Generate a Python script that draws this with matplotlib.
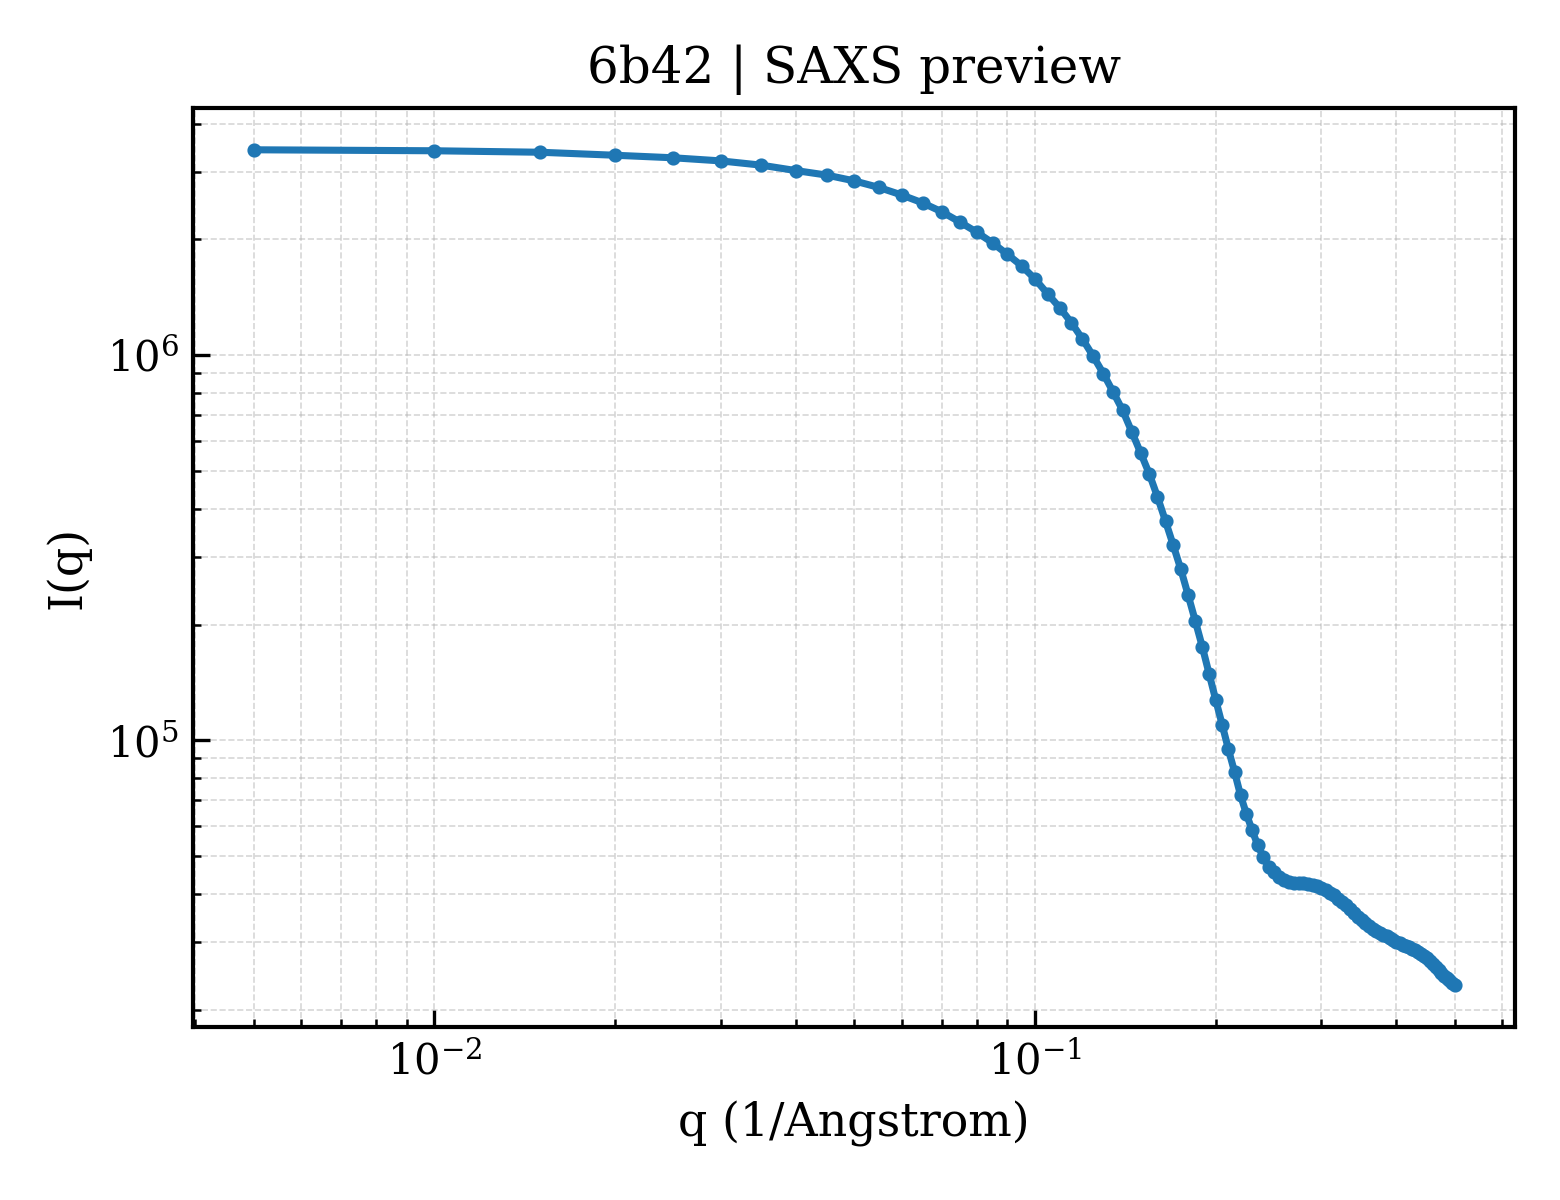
import matplotlib
matplotlib.use("Agg")
import matplotlib.pyplot as plt

# =========================
# Data (q in 1/Angstrom, I in counts)
# =========================
PDB_ID = "6b42"

Q_VALUES = [
    0.005, 0.010, 0.015, 0.020, 0.025, 0.030, 0.035, 0.040, 0.045, 0.050,
    0.055, 0.060, 0.065, 0.070, 0.075, 0.080, 0.085, 0.090, 0.095, 0.100,
    0.105, 0.110, 0.115, 0.120, 0.125, 0.130, 0.135, 0.140, 0.145, 0.150,
    0.155, 0.160, 0.165, 0.170, 0.175, 0.180, 0.185, 0.190, 0.195, 0.200,
    0.205, 0.210, 0.215, 0.220, 0.225, 0.230, 0.235, 0.240, 0.245, 0.250,
    0.255, 0.260, 0.265, 0.270, 0.275, 0.280, 0.285, 0.290, 0.295, 0.300,
    0.305, 0.310, 0.315, 0.320, 0.325, 0.330, 0.335, 0.340, 0.345, 0.350,
    0.355, 0.360, 0.365, 0.370, 0.375, 0.380, 0.385, 0.390, 0.395, 0.400,
    0.405, 0.410, 0.415, 0.420, 0.425, 0.430, 0.435, 0.440, 0.445, 0.450,
    0.455, 0.460, 0.465, 0.470, 0.475, 0.480, 0.485, 0.490, 0.495, 0.500,
]

INTENSITY = [
    3.42e6, 3.40e6, 3.37e6, 3.31e6, 3.26e6, 3.20e6, 3.12e6, 3.02e6, 2.94e6, 2.84e6,
    2.73e6, 2.61e6, 2.49e6, 2.36e6, 2.22e6, 2.09e6, 1.96e6, 1.83e6, 1.71e6, 1.58e6,
    1.445e6, 1.33e6, 1.216e6, 1.103e6, 9.96e5, 8.97e5, 8.03e5, 7.20e5, 6.33e5, 5.58e5,
    4.93e5, 4.29e5, 3.71e5, 3.21e5, 2.78e5, 2.38e5, 2.04e5, 1.75e5, 1.49e5, 1.275e5,
    1.099e5, 9.48e4, 8.28e4, 7.20e4, 6.44e4, 5.84e4, 5.34e4, 4.98e4, 4.69e4, 4.54e4,
    4.42e4, 4.33e4, 4.28e4, 4.26e4, 4.25e4, 4.25e4, 4.24e4, 4.22e4, 4.19e4, 4.14e4,
    4.08e4, 4.02e4, 3.96e4, 3.88e4, 3.80e4, 3.73e4, 3.64e4, 3.56e4, 3.48e4, 3.42e4,
    3.36e4, 3.30e4, 3.24e4, 3.20e4, 3.16e4, 3.13e4, 3.10e4, 3.06e4, 3.03e4, 3.00e4,
    2.97e4, 2.95e4, 2.92e4, 2.90e4, 2.875e4, 2.85e4, 2.82e4, 2.79e4, 2.755e4, 2.72e4,
    2.67e4, 2.625e4, 2.58e4, 2.53e4, 2.49e4, 2.45e4, 2.42e4, 2.38e4, 2.345e4, 2.31e4,
]

# =========================
# Style
# =========================
plt.rcParams["font.family"] = "serif"
plt.rcParams["font.serif"] = ["DejaVu Serif"]
plt.rcParams["mathtext.fontset"] = "dejavuserif"


def make_plot(output_file="out.png"):
    fig, ax = plt.subplots(figsize=(5.2, 4), dpi=300)

    ax.loglog(Q_VALUES, INTENSITY, "-o", color="#1f77b4", lw=1.7, ms=2.4)

    ax.set_title(f"{PDB_ID} | SAXS preview", fontsize=12)
    ax.set_xlabel("q (1/Angstrom)", fontsize=11)
    ax.set_ylabel("I(q)", fontsize=11)

    ax.grid(True, which="both", ls="--", lw=0.4, color="#b0b0b0", alpha=0.5)
    ax.tick_params(which="both", direction="in", labelsize=10)
    ax.tick_params(which="major", length=4, width=0.8)
    ax.tick_params(which="minor", length=2, width=0.6)
    for spine in ax.spines.values():
        spine.set_linewidth(1.0)

    fig.subplots_adjust(left=0.124, right=0.971, top=0.91, bottom=0.144)
    fig.savefig(output_file, dpi=300)
    plt.close(fig)


if __name__ == "__main__":
    make_plot("out.png")
